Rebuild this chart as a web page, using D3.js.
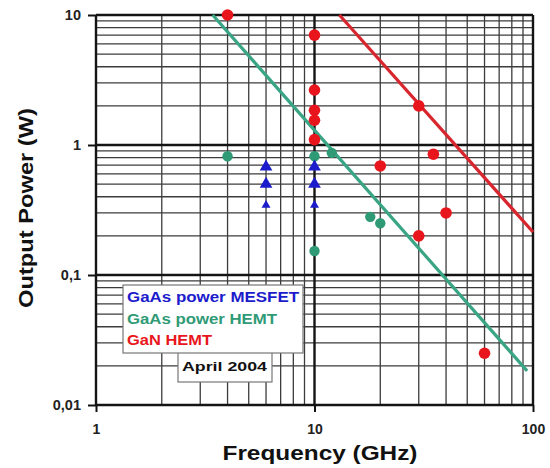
<!DOCTYPE html>
<html>
<head>
<meta charset="utf-8">
<script src="https://cdn.jsdelivr.net/npm/d3@7"></script>
<style>
  body { margin: 0; background: #fff; }
  svg text { font-family: "Liberation Sans", Arial, sans-serif; font-weight: bold; }
</style>
</head>
<body>
<svg id="chart" width="550" height="468"></svg>
<script>
// Data
const xTicks = [1, 10, 100];
const xTickLabels = ["1", "10", "100"];
const yTicks = [0.01, 0.1, 1, 10];
const yTickLabels = ["0,01", "0,1", "1", "10"];

const mesfetFreq  = [6, 6, 6, 10, 10, 10];
const mesfetPower = [0.68, 0.5, 0.345, 0.68, 0.5, 0.345];
const mesfetBig   = [true, true, false, true, true, false];

const hemtFreq  = [4, 10, 12, 10, 18, 20];
const hemtPower = [0.82, 0.82, 0.87, 0.153, 0.28, 0.25];

const ganFreq  = [4, 10, 10, 10, 10, 10, 30, 35, 20, 40, 30, 60];
const ganPower = [10, 7, 2.65, 1.85, 1.55, 1.1, 2, 0.85, 0.69, 0.3, 0.2, 0.025];

// trend lines (end points)
const hemtTrendF = [3.42, 94];
const hemtTrendP = [10, 0.0183];
const ganTrendF  = [13, 100];
const ganTrendP  = [10, 0.214];

const legendLabels = ["GaAs power MESFET", "GaAs power HEMT", "GaN HEMT"];
const legendWidths = [172, 150, 85];
const legendColors = ["#1c1ccc", "#2f9a76", "#e8151c"];
const stampLabel = "April 2004";

const svg = d3.select("#chart");
const margin = {left: 96, right: 17, top: 15, bottom: 63};
const width = +svg.attr("width"), height = +svg.attr("height");

const x = d3.scaleLog().domain([1, 100]).range([margin.left, width - margin.right]);
const y = d3.scaleLog().domain([0.01, 10]).range([height - margin.bottom, margin.top]);

const g = svg.append("g");

// minor grid
const minorX = [], minorY = [];
[1, 10].forEach(d => { for (let k = 2; k <= 9; k++) minorX.push(d * k); });
[0.01, 0.1, 1].forEach(d => { for (let k = 2; k <= 9; k++) minorY.push(d * k); });

g.selectAll(".vminor").data(minorX).enter().append("line")
    .attr("x1", d => x(d)).attr("x2", d => x(d))
    .attr("y1", y(0.01)).attr("y2", y(10))
    .attr("stroke", "#3c3c3c").attr("stroke-width", 1.3);
g.selectAll(".hminor").data(minorY).enter().append("line")
    .attr("y1", d => y(d)).attr("y2", d => y(d))
    .attr("x1", x(1)).attr("x2", x(100))
    .attr("stroke", "#3c3c3c").attr("stroke-width", 1.3);

// major grid
g.selectAll(".vmajor").data(xTicks).enter().append("line")
    .attr("x1", d => x(d)).attr("x2", d => x(d))
    .attr("y1", y(0.01)).attr("y2", y(10))
    .attr("stroke", "#141414").attr("stroke-width", 2.4);
g.selectAll(".hmajor").data(yTicks).enter().append("line")
    .attr("y1", d => y(d)).attr("y2", d => y(d))
    .attr("x1", x(1)).attr("x2", x(100))
    .attr("stroke", "#141414").attr("stroke-width", 2.4);

// axes
const xAxis = d3.axisBottom(x).tickValues(xTicks)
    .tickFormat((d, i) => xTickLabels[i]).tickSize(7).tickPadding(12);
const yAxis = d3.axisLeft(y).tickValues(yTicks)
    .tickFormat((d, i) => yTickLabels[i]).tickSize(8).tickPadding(7);

svg.append("g").attr("transform", `translate(0,${y(0.01)})`).call(xAxis)
    .call(a => a.select(".domain").remove())
    .call(a => a.selectAll("line").attr("stroke", "#111").attr("stroke-width", 2))
    .call(a => a.selectAll("text").attr("font-size", 14).attr("fill", "#222")
        .attr("font-family", "Liberation Sans, Arial, sans-serif"));
svg.append("g").attr("transform", `translate(${x(1)},0)`).call(yAxis)
    .call(a => a.select(".domain").remove())
    .call(a => a.selectAll("line").attr("stroke", "#111").attr("stroke-width", 2))
    .call(a => a.selectAll("text").attr("font-size", 14.5).attr("fill", "#222")
        .attr("font-family", "Liberation Sans, Arial, sans-serif"));

// axis titles
svg.append("text")
    .attr("x", 320).attr("y", 460)
    .attr("text-anchor", "middle").attr("font-size", 21).attr("fill", "#111")
    .attr("textLength", 195).attr("lengthAdjust", "spacingAndGlyphs")
    .text("Frequency (GHz)");
svg.append("text")
    .attr("transform", "translate(33,208) rotate(-90)")
    .attr("text-anchor", "middle").attr("font-size", 20).attr("fill", "#111")
    .attr("textLength", 200).attr("lengthAdjust", "spacingAndGlyphs")
    .text("Output Power (W)");

// trend lines
const line = d3.line().x(d => x(d[0])).y(d => y(d[1]));
g.append("path").datum(d3.zip(hemtTrendF, hemtTrendP)).attr("d", line)
    .attr("stroke", "#3aa584").attr("stroke-width", 3.2).attr("fill", "none");
g.append("path").datum(d3.zip(ganTrendF, ganTrendP)).attr("d", line)
    .attr("stroke", "#d8262e").attr("stroke-width", 3.2).attr("fill", "none");

// legend box + stamp
const lg = svg.append("g");
lg.append("rect").attr("x", 178).attr("y", 340).attr("width", 94).attr("height", 42)
    .attr("fill", "#fff").attr("stroke", "#777").attr("stroke-width", 1.2);
lg.append("text").attr("x", 182).attr("y", 371).attr("font-size", 12.5).attr("fill", "#111")
    .attr("textLength", 85).attr("lengthAdjust", "spacingAndGlyphs")
    .text(stampLabel);
lg.append("rect").attr("x", 123).attr("y", 285).attr("width", 180).attr("height", 68)
    .attr("fill", "#fff").attr("stroke", "#777").attr("stroke-width", 1.2);
lg.selectAll(".leg").data(legendLabels).enter().append("text")
    .attr("x", 127).attr("y", (d, i) => 302 + i * 21.5)
    .attr("font-size", 14).attr("fill", (d, i) => legendColors[i])
    .attr("textLength", (d, i) => legendWidths[i]).attr("lengthAdjust", "spacingAndGlyphs")
    .text(d => d);

// points
g.selectAll(".hemt").data(d3.zip(hemtFreq, hemtPower)).enter().append("circle")
    .attr("cx", d => x(d[0])).attr("cy", d => y(d[1])).attr("r", 5.2)
    .attr("fill", legendColors[1]);

const tri = d3.symbol().type(d3.symbolTriangle);
g.selectAll(".mesfet").data(d3.zip(mesfetFreq, mesfetPower, mesfetBig)).enter().append("path")
    .attr("transform", d => `translate(${x(d[0])},${y(d[1])})`)
    .attr("d", d => tri.size(d[2] ? 70 : 35)())
    .attr("fill", legendColors[0]);

g.selectAll(".gan").data(d3.zip(ganFreq, ganPower)).enter().append("circle")
    .attr("cx", d => x(d[0])).attr("cy", d => y(d[1])).attr("r", 5.8)
    .attr("fill", legendColors[2]);
</script>
</body>
</html>
